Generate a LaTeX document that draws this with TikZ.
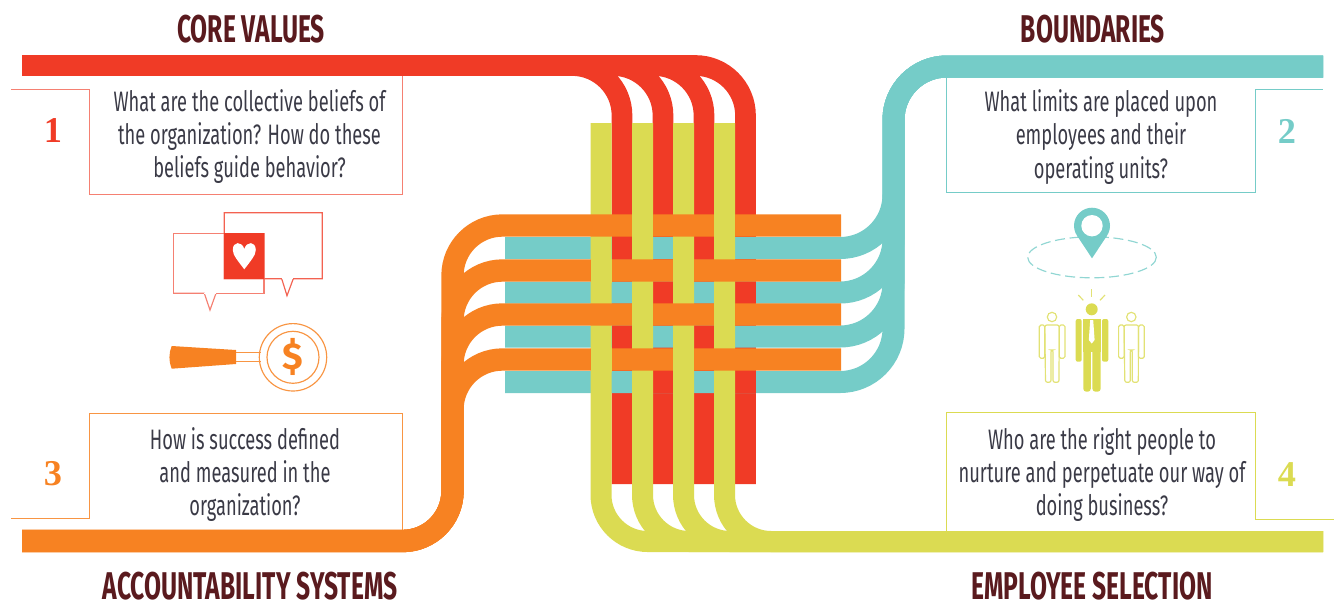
\documentclass[tikz,border=0pt]{standalone}
\usepackage{fontspec}
\setmainfont{Fira Sans}
\newfontfamily\askfont[FakeStretch=0.65]{Fira Sans}
\newfontfamily\headfont[FakeStretch=0.637]{Fira Sans}
\newfontfamily\numfont{Liberation Serif}
\usepackage{tikz}
\usetikzlibrary{calc,positioning}
\definecolor{redc}{HTML}{F03B26}
\definecolor{tealc}{HTML}{75CCC8}
\definecolor{orangec}{HTML}{F78222}
\definecolor{yellowc}{HTML}{DBDB52}
\definecolor{maroonc}{HTML}{5A1A1E}
\definecolor{askc}{HTML}{3A3A46}

\begin{document}
\begin{tikzpicture}[
    x=0.03cm, y=-0.03cm,
    redband/.style={draw=redc, line width=0.62cm},
    tealband/.style={draw=tealc, line width=0.66cm},
    orangeband/.style={draw=orangec, line width=0.67cm},
    yellowband/.style={draw=yellowc, line width=0.63cm},
    heading/.style={text=maroonc, font=\headfont\bfseries\fontsize{33}{36}\selectfont, inner sep=0pt},
    ask/.style={text=askc, align=center, font=\askfont\fontsize{24}{28.2}\selectfont, inner sep=0pt},
    num/.style={font=\numfont\bfseries\fontsize{31}{34}\selectfont, inner sep=0pt},
    frame/.style={line width=0.03cm},
    figline/.style={line width=0.035cm}
]
\useasboundingbox (0,0) rectangle (1334,603);

% Headings
\node[heading] (core) at (251,29) {CORE VALUES};
\node[heading] (bound) at (1093,29) {BOUNDARIES};
\node[heading] (acct) at (250,586) {ACCOUNTABILITY SYSTEMS};
\node[heading] (empl) at (1092,586) {EMPLOYEE SELECTION};

% Question frames
\draw[frame, redc!65] (11,89) -- (89,89) -- (89,194.5) -- (402,194.5) -- (402,70);
\draw[frame, tealc] (946,70) -- (946,192) -- (1255,192) -- (1255,89) -- (1323,89);
\draw[frame, orangec!85] (11,518) -- (89,518) -- (89,413) -- (402,413) -- (402,535);
\draw[frame, yellowc] (946,535) -- (946,412.5) -- (1255,412.5) -- (1255,519) -- (1334,519);

% Questions
\node[ask] (q1) at (249.5,136.5) {What are the collective beliefs of\\the organization? How do these\\beliefs guide behavior?};
\node[ask] (q2) at (1101,137) {What limits are placed upon\\employees and their\\operating units?};
\node[ask] (q3) at (245,474.5) {How is success defined\\and measured in the\\organization?};
\node[ask] (q4) at (1102,474.5) {Who are the right people to\\nurture and perpetuate our way of\\doing business?};

% Numbers
\node[num, text=redc] (n1) at (53,131) {1};
\node[num, text=tealc] (n2) at (1287,131) {2};
\node[num, text=orangec] (n3) at (53,474) {3};
\node[num, text=yellowc] (n4) at (1287,475) {4};

% Red strands
\foreach \cx in {622,663,704,745.5}
    \draw[redband, rounded corners=1.5cm] (22,65.5) -| (\cx,484);

% Teal strands
\foreach \ry in {248,292.5,336.5,382}
    \draw[tealband, rounded corners=1.6cm] (505,\ry) -| (893.5,66.5) -- (1323,66.5);

% Red over teal
\foreach \cx/\ry in {622/248,622/336.5,663/292.5,663/382,704/248,704/336.5,745.5/292.5,745.5/382}
    \draw[redband] (\cx,\ry-11) -- (\cx,\ry+11);

% Yellow strands
\foreach \cx in {601,642.5,683.5,724.5}
    \draw[yellowband, rounded corners=1.4cm] (\cx,123) |- (1323,541.5);

% Orange strands
\foreach \ry in {225.5,270.5,314.5,359.5}
    \draw[orangeband, rounded corners=1.5cm] (841,\ry) -| (452.5,541) -- (22,541);

% Yellow over orange
\foreach \cx/\ry in {601/270.5,601/359.5,642.5/225.5,642.5/314.5,683.5/270.5,683.5/359.5,724.5/225.5,724.5/314.5}
    \draw[yellowband] (\cx,\ry-12) -- (\cx,\ry+12);

% Speech bubbles
\draw[figline, redc!65] (173.3,233.3) rectangle (264,293.3);
\draw[figline, redc!65] (173.3,293.3) -- (204.3,293.3) -- (210,310) -- (216,293.3);
\draw[figline, draw=white] (204.3,293.3) -- (216,293.3);
\draw[figline, redc!80] (224.3,212.7) -- (322.3,212.7) -- (322.3,278.7) -- (293.3,278.7) -- (287,295.7) -- (281.7,278.7) -- (224.3,278.7) -- cycle;
\draw[figline, draw=white] (281.7,278.7) -- (293.3,278.7);
\fill[redc] (224.3,232.7) rectangle (264.3,279.3);
\fill[white] (244.3,269.3) .. controls (238,261) and (232.8,255) .. (232.8,250)
    .. controls (232.8,241) and (242,241) .. (244.3,249)
    .. controls (246.6,241) and (255.8,241) .. (255.8,250)
    .. controls (255.8,255) and (250.6,261) .. (244.3,269.3) -- cycle;

% Magnifying glass
\fill[orangec] (171.7,346) -- (236,350) -- (236,364) -- (171.7,368.7)
    .. controls (168.7,361) and (168.7,353) .. (171.7,346) -- cycle;
\draw[figline, orangec!85] (236,352.3) -- (260.5,352.3);
\draw[figline, orangec!85] (236,361.7) -- (260.5,361.7);
\draw[figline, orangec!85] (293,357.3) circle [radius=33.7];
\draw[figline, orangec!85] (293,357.3) circle [radius=26];
\node[text=orangec, font=\bfseries\fontsize{32}{33}\selectfont, inner sep=0pt] (dollar) at (293,357) {\$};

% Location pin
\draw[figline, tealc!80, dashed, dash pattern=on 0.3cm off 0.14cm] (1092,257.3) ellipse [x radius=64.3, y radius=20.5];
\fill[tealc] (1092,258.3) -- (1077,235.6) -- (1107,235.6) -- cycle;
\fill[tealc] (1092,225.7) circle [radius=18];
\fill[white] (1092,225.7) circle [radius=10.7];

% Centre person
\fill[yellowc] (1091.7,309.3) circle [radius=6];
\draw[figline, yellowc!80] (1091.7,289) -- (1091.7,296.7);
\draw[figline, yellowc!80] (1078.3,295) -- (1083.3,300.3);
\draw[figline, yellowc!80] (1105,295) -- (1100,300.3);
\fill[yellowc, rounded corners=0.06cm] (1075.7,319) rectangle (1081.7,361.7);
\fill[yellowc, rounded corners=0.06cm] (1102,319) rectangle (1108.3,361.7);
\fill[yellowc] (1082.7,319) rectangle (1100.7,352);
\fill[yellowc, rounded corners=0.09cm] (1083.3,345) rectangle (1090.8,391.7);
\fill[yellowc, rounded corners=0.09cm] (1092.4,345) rectangle (1100.7,391.7);
\fill[white] (1090.2,320) -- (1093.2,320) -- (1094.6,340) -- (1091.7,343.5) -- (1088.8,340) -- cycle;

% Side people
\foreach \px/\pname in {1052/left,1131.3/right}{
    \draw[figline, yellowc!80] (\px,317) circle [radius=4.7];
    \draw[figline, yellowc!80, rounded corners=0.05cm] (\px-12.7,325) rectangle (\px-7.2,358.3);
    \draw[figline, yellowc!80, rounded corners=0.05cm] (\px+7.2,325) rectangle (\px+13,358.3);
    \draw[figline, yellowc!80, rounded corners=0.06cm] (\px-7.2,325) -- (\px+7.2,325) -- (\px+7,382.3) -- (\px+1,382.3) -- (\px+1,350) -- (\px-1,350) -- (\px-1,382.3) -- (\px-6.5,382.3) -- cycle;
}
\end{tikzpicture}
\end{document}
